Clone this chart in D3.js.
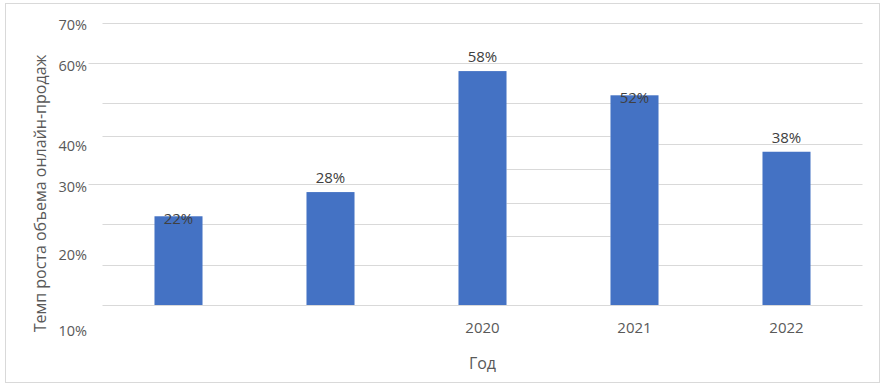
<!DOCTYPE html>
<html>
<head>
<meta charset="utf-8">
<script src="https://cdn.jsdelivr.net/npm/d3@7"></script>
<style>
  body { margin: 0; background: #fff; }
  text { font-family: "Open Sans", sans-serif; }
</style>
</head>
<body>
<div id="chart-area"></div>
<script>
// data
var categories = ["2018", "2019", "2020", "2021", "2022"];
var xLabels = ["", "", "2020", "2021", "2022"];
var values = [22, 28, 58, 52, 38];
var valueLabels = ["22%", "28%", "58%", "52%", "38%"];

// y tick labels as they sit in the picture (value where each one is drawn)
var tickLabels = ["70%", "60%", "40%", "30%", "20%", "10%"];
var tickAt = [70, 60, 40, 30, 13, -5.8];

// gridlines (in %), the picture has different lines in different stretches
var gridFull = [0, 50, 60, 70];
var gridLeft = [10, 20, 30, 41.9];
var gridMid = [17.1, 25.4, 33.6, 41.9];
var gridRight = [10, 20, 30, 40];

var width = 887, height = 389;

var svg = d3.select("#chart-area").append("svg")
  .attr("width", width)
  .attr("height", height);

// frame
svg.append("rect")
  .attr("x", 5.5).attr("y", 3.5)
  .attr("width", 874).attr("height", 379)
  .attr("fill", "#fff")
  .attr("stroke", "#d9d9d9");

var x = d3.scaleBand()
  .domain(categories)
  .range([102.5, 862.5])
  .paddingInner(0.684)
  .paddingOuter(0.342);

var y = d3.scaleLinear()
  .domain([0, 70])
  .range([305, 22.7]);

var bw = x.bandwidth();
var x0 = x.range()[0], x1 = x.range()[1];

function grid(vals, a, b) {
  svg.append("g").selectAll("line")
    .data(vals)
    .enter()
    .append("line")
    .attr("x1", (d) => { return (d == 60 || d == 30) && a == x0 ? a - 14 : a; })
    .attr("x2", b)
    .attr("y1", (d) => { return Math.round(y(d)) + 0.5; })
    .attr("y2", (d) => { return Math.round(y(d)) + 0.5; })
    .attr("stroke", "#d9d9d9")
    .attr("stroke-width", 1);
}

grid(gridFull, x0, x1);
grid(gridLeft, x0, x("2020"));
grid(gridMid, x("2020") + bw, x("2021"));
grid(gridRight, x("2021") + bw, x1);

// bars
svg.append("g").selectAll("rect")
  .data(values)
  .enter()
  .append("rect")
  .attr("x", (d, i) => { return x(categories[i]); })
  .attr("y", (d) => { return y(d); })
  .attr("width", bw)
  .attr("height", (d) => { return y(0) - y(d); })
  .attr("fill", "#4472c4");

// value labels (two of them sit on the bar top in the picture)
var onTop = ["2018", "2021"];
svg.append("g").selectAll("text")
  .data(values)
  .enter()
  .append("text")
  .attr("x", (d, i) => { return x(categories[i]) + bw / 2; })
  .attr("y", (d, i) => { return onTop.indexOf(categories[i]) >= 0 ? y(d) + 2 : y(d) - 14; })
  .attr("dy", "0.36em")
  .attr("text-anchor", "middle")
  .attr("font-size", 15)
  .attr("fill", "#404040")
  .text((d, i) => { return valueLabels[i]; });

// y tick labels
svg.append("g").selectAll("text")
  .data(tickLabels)
  .enter()
  .append("text")
  .attr("x", 87)
  .attr("y", (d, i) => { return y(tickAt[i]) + 2.5; })
  .attr("dy", "0.36em")
  .attr("text-anchor", "end")
  .attr("font-size", 14.5)
  .attr("fill", "#595959")
  .text((d) => { return d; });

// x labels
svg.append("g").selectAll("text")
  .data(categories)
  .enter()
  .append("text")
  .attr("x", (d) => { return x(d) + bw / 2; })
  .attr("y", 328)
  .attr("dy", "0.36em")
  .attr("text-anchor", "middle")
  .attr("font-size", 15)
  .attr("fill", "#595959")
  .text((d, i) => { return xLabels[i]; });

// axis titles
svg.append("text")
  .attr("x", (x0 + x1) / 2)
  .attr("y", 363)
  .attr("dy", "0.36em")
  .attr("text-anchor", "middle")
  .attr("font-size", 16)
  .attr("fill", "#595959")
  .text("Год");

svg.append("text")
  .attr("transform", "translate(40,193.5) rotate(-90)")
  .attr("dy", "0.36em")
  .attr("text-anchor", "middle")
  .attr("font-size", 16)
  .attr("fill", "#595959")
  .text("Темп роста объема онлайн-продаж");
</script>
</body>
</html>
